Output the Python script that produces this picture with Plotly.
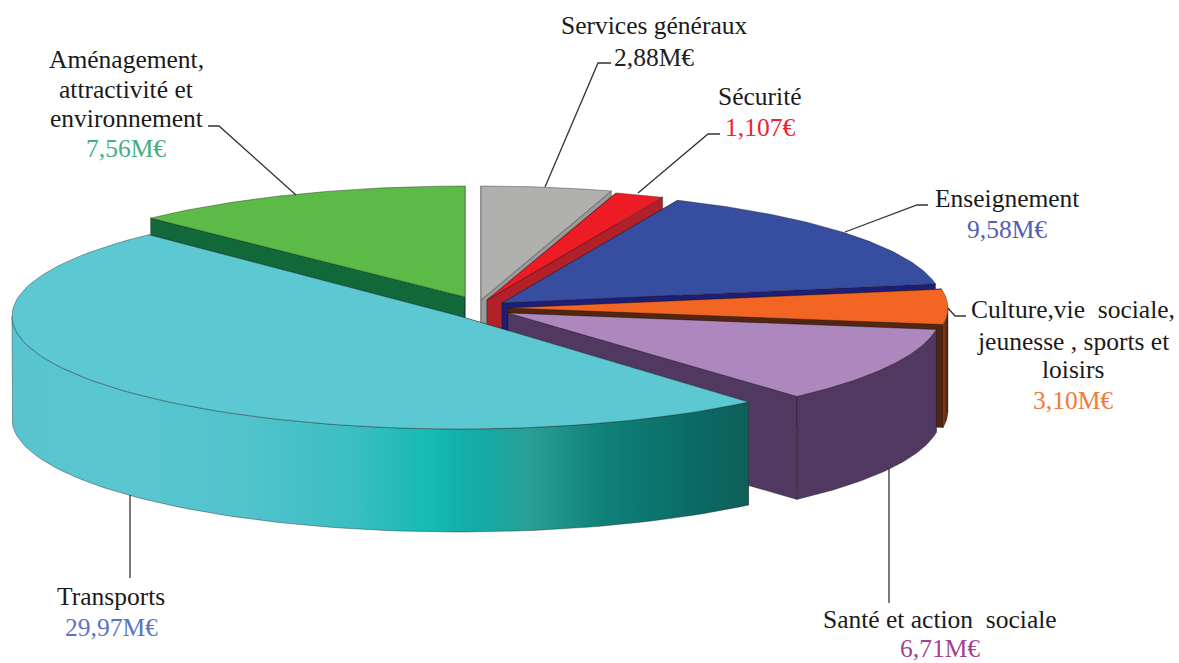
import numpy as np
import plotly.graph_objects as go

# ---- data (clockwise from the top of the pie) ----
categories = ["Services généraux", "Sécurité", "Enseignement",
              "Culture, vie sociale, jeunesse, sports et loisirs",
              "Santé et action sociale", "Transports",
              "Aménagement, attractivité et environnement"]
values = [2.88, 1.10, 9.58, 3.10, 6.71, 29.97, 7.56]
value_labels = ["2,88M€", "1,107€", "9,58M€", "3,10M€", "6,71M€", "29,97M€", "7,56M€"]
name_lines = [["Services généraux"], ["Sécurité"], ["Enseignement"],
              ["Culture,vie\u00a0 sociale,", "jeunesse , sports et", "loisirs"],
              ["Santé et action\u00a0 sociale"], ["Transports"],
              ["Aménagement,", "attractivité et", "environnement"]]

# ---- styles ----
top_colors = ["#B0B0AE", "#ED1C24", "#374DA0", "#F26522", "#AE87BE", "#5CC8D2", "#5CBA47"]
wall_colors = ["#9A9A98", "#B2202A", "#1E1E78", "#55260F", "#503860", "#5CC8D2", "#116838"]
value_colors = ["#222222", "#EE2233", "#5560B0", "#F47A3A", "#A0448F", "#5B74C4", "#45AE85"]
transport_gradient = [(12, "#58C4CD"), (130, "#5AC6D0"), (250, "#50C3CB"), (350, "#3CBEC3"),
                      (427, "#16BAB4"), (480, "#14AAA5"), (530, "#289F96"), (600, "#0F827A"),
                      (700, "#0A6964"), (748, "#0F5F5A")]
culture_gradient = [(938, "#4A200C"), (944, "#7A3A14"), (948, "#4A200C")]

# ---- projection of the tilted, exploded pie (per slice) ----
apex_x = [481, 487, 502, 508, 508, 459, 465]
apex_y = [300, 300, 303, 308, 313, 316, 297]
radius_x = [445, 440, 440, 440, 433, 447, 447]
radius_y = [114, 112, 112, 112, 112, 113, 111]
angle_shift_start = [0, 0, 0, 0, 0, 1.5, 0]
angle_shift_end = [0, 0, 0, 0, 0, 0.7, 0]
depth = 103
draw_order = [0, 1, 2, 6, 3, 4, 5]

bounds = np.concatenate([[0], np.cumsum(values)]) / sum(values) * 360.0


def rim(i, t0, t1, n=90):
    t = np.radians(np.linspace(t0, t1, n))
    return apex_x[i] + radius_x[i] * np.sin(t), apex_y[i] - radius_y[i] * np.cos(t)


def poly(fig, xs, ys, fill, line="rgba(25,25,25,0.55)", width=0.7, gradient=None):
    kw = dict(fillcolor=fill)
    if gradient:
        lo, hi = gradient[0][0], gradient[-1][0]
        kw = dict(fillgradient=dict(type="horizontal", start=lo, stop=hi,
                                    colorscale=[[(p - lo) / (hi - lo), c] for p, c in gradient]))
    fig.add_trace(go.Scatter(x=np.append(xs, xs[0]), y=np.append(ys, ys[0]), mode="lines",
                             fill="toself", line=dict(color=line, width=width),
                             hoverinfo="skip", showlegend=False, **kw))


fig = go.Figure()
for i in draw_order:
    t0 = bounds[i] + angle_shift_start[i]
    t1 = bounds[i + 1] + angle_shift_end[i]
    # cut faces
    for t in (t0, t1):
        ex, ey = rim(i, t, t, 1)
        xs = np.array([apex_x[i], ex[0], ex[0], apex_x[i]])
        ys = np.array([apex_y[i], ey[0], ey[0] + depth, apex_y[i] + depth])
        poly(fig, xs, ys, wall_colors[i])
    # outer wall, only the part that faces the viewer
    a, b = max(t0, 90), min(t1, 270)
    if a < b:
        rx, ry = rim(i, a, b)
        grad = transport_gradient if i == 5 else culture_gradient if i == 3 else None
        poly(fig, np.concatenate([rx, rx[::-1]]), np.concatenate([ry, ry[::-1] + depth]),
             wall_colors[i], gradient=grad)
    # top face
    rx, ry = rim(i, t0, t1)
    poly(fig, np.concatenate([[apex_x[i]], rx]), np.concatenate([[apex_y[i]], ry]), top_colors[i])

# ---- labels: [x centre, y of each line] ----
label_x = [654, 760, 1007, 1073, 940, 111, 126]
label_y = [[25, 57], [96, 127], [198, 229], [309, 341, 369, 400], [619, 648], [596, 627], [59, 89, 118, 148]]
font = "Liberation Serif"
for i, lines in enumerate(name_lines):
    texts = lines + [value_labels[i]]
    for j, txt in enumerate(texts):
        fig.add_annotation(x=label_x[i], y=label_y[i][j], text=txt, showarrow=False,
                           xanchor="center", yanchor="middle",
                           font=dict(family=font, size=25.5,
                                     color=value_colors[i] if j == len(lines) else "#1A1A1A"))

# ---- leader lines ----
leaders = ["M611,63 L598,63 L545,187", "M720,134 L708,134 L638,193", "M928,205 L917,205 L845,232",
           "M966,316 L955,316 L948,308", "M889,603 L889,468", "M130,578 L130,495",
           "M208,126 L219,126 L296,195"]
for p in leaders:
    fig.add_shape(type="path", path=p, xref="x", yref="y", line=dict(color="#333333", width=1.3))

fig.update_layout(width=1179, height=663, margin=dict(l=0, r=0, t=0, b=0),
                  paper_bgcolor="white", plot_bgcolor="white", showlegend=False,
                  xaxis=dict(range=[0, 1179], visible=False, fixedrange=True),
                  yaxis=dict(range=[663, 0], visible=False, fixedrange=True))
fig.write_html("out.html", config={"displayModeBar": False},
               post_script="document.body.style.margin='0';document.documentElement.style.overflow='hidden';")
